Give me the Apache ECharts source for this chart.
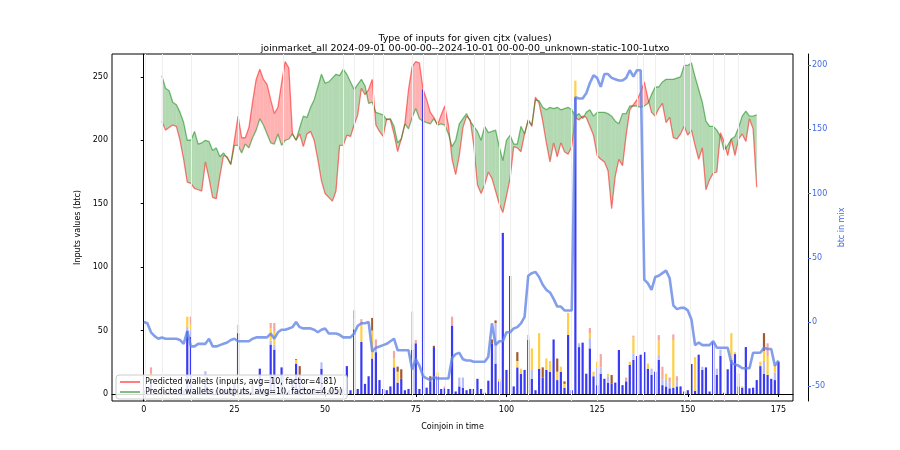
<!DOCTYPE html>
<html><head><meta charset="utf-8">
<script src="https://cdn.jsdelivr.net/npm/echarts@6/dist/echarts.min.js"></script>
<style>html,body{margin:0;padding:0;background:#fff}#c{width:900px;height:450px}</style>
</head><body><div id="c"></div>
<script>
const lineX = [];
for (let i = 5; i <= 169; i++) lineX.push(i);
const outputsVals = [251,241,239,230,228,222,214,200,200,207,197,198,200,199,192,194,187,190,186,181,196,196,190,197,194,202,208,217,212,205,198,197,205,196,200,201,205,200,210,219,218,226,232,242,252,245,246,249,252,251,256,252,246,240,244,248,243,229,230,222,221,220,216,217,211,198,201,213,209,218,225,217,215,214,213,217,212,213,212,205,195,200,213,217,221,215,211,207,200,211,206,207,208,195,184,200,204,197,197,211,205,216,212,232,231,226,224,226,225,226,224,225,226,224,219,221,217,222,224,219,222,222,222,221,219,215,213,221,221,227,227,227,226,227,229,236,242,242,246,248,248,248,249,250,259,259,261,250,240,230,215,211,211,208,203,192,196,201,203,210,219,223,219,219,220];
const inputsVals = [215,208,210,212,211,200,185,167,166,162,161,160,183,170,155,154,172,188,187,181,200,219,202,202,210,230,248,256,248,244,232,221,226,245,262,257,205,200,205,195,205,207,200,185,168,158,155,152,160,196,196,204,203,212,220,241,236,240,248,212,207,203,217,216,205,191,201,213,240,258,262,261,240,232,222,218,212,220,227,212,185,173,188,210,219,216,196,165,158,165,175,170,160,150,143,156,170,195,194,191,205,216,211,234,229,215,198,183,198,187,198,191,189,195,218,216,219,218,211,204,188,185,183,176,146,172,185,180,204,224,228,232,238,246,233,222,219,225,229,214,218,202,201,205,211,204,208,196,185,194,161,169,174,175,206,199,188,201,188,201,205,199,217,209,163];
const mixVals = [0,-1,-8,-11,-13,-12,-13,-13,-13,-13,-14,-17,-7,-19,-19,-17,-17,-17,-13,-19,-19,-18,-17,-16,-14,-13,-15,-15,-15,-15,-13,-12,-12,-12,-12,-9,-13,-8,-6,-6,-5,-4,0,-4,-5,-5,-5,-6,-8,-6,-5,-9,-9,-9,-10,-12,-12,-12,-9,-3,-1,-1,0,-23,-20,-19,-18,-17,-15,-13,-22,-22,-22,-22,-37,-29,-34,-42,-44,-45,-43,-44,-44,-44,-44,-28,-25,-24,-29,-30,-30,-31,-31,-31,-31,-27,-1,-18,-15,-15,-8,-8,-5,-4,-1,4,36,38,39,35,29,25,23,18,12,12,9,9,9,175,174,174,178,186,192,190,183,193,193,190,189,188,188,190,196,191,196,196,33,30,25,35,36,38,40,34,13,10,11,11,9,2,-18,-16,-18,-18,-18,-15,-20,-20,-20,-20,-32,-33,-34,-36,-36,-36,-24,-24,-24,-20,-21,-21,-34,-30];
const blueBars = [3,2,10,3,2,3,2,3,2,3,4,3,50,45,3,2,4,10,3,4,3,5,2,3,4,8,48,3,4,2,6,3,20,4,3,39,35,3,21,4,3,12,24,15,6,3,3,4.5,3,20,4,3,3,4,4,4,22,3,51,4,41,8,14,28,33,11,4,3,6,21,9,12,3,4,35,40,4,240,5,10,37,14,4,4.5,4,54,2,6,5,3,4,4,12,4,1,10.5,40,24,10,127,19,93,6,21,16,19,42.6,12,3,20,13,19,17.6,43,11,17.6,5,46.5,3,234,37,40.5,16,36,14,7,16,12,9,8.4,9,34.7,7,10,23,27,30,31,33,20,15,17.6,27,7,6,4.5,5,6,6,2,3,23.7,2.6,31,19,21,2,41,15,30,1,19.5,27,31.5,6,5,37,4.5,5,11,22,16,15,12,11,25.5];
const lightBars = [[2,3],[12,3],[13,6],[17,8],[35,3],[36,4],[49,5],[58,8],[64,2],[74,5],[87,7],[88,8],[97,32],[106,4],[107,7],[120,3],[123,8],[125,14],[126,5],[128,5],[135,5],[140,5],[142,4],[143,4.5],[144,5],[145,4.5],[147,4],[154,2.5],[158,5],[159,5],[164,5],[171,10],[174,6]];
const yellowBars = [[2,3],[12,8],[13,4],[25,3],[26,6.5],[35,10],[36,10],[42,3],[54,1],[60,13.5],[63,22],[69,7],[70,8.6],[74,25],[81,3],[98,2],[103,5],[104,4],[107,17],[109,28],[111,9],[112,8.4],[114,6.6],[115,4],[116,3],[117,17.5],[119,13],[123,4],[124,3.6],[125,4.5],[128,2],[134,2.5],[135,13],[139,4],[142,11],[144,5],[146,37.6],[152,26.4],[162,21],[163,1.5],[164,5],[165,1],[170,3.5],[171,8],[172,15],[174,6]];
const pinkBars = [[2,5],[13,6],[35,4],[36,7],[58,7],[60,4.5],[64,8],[69,6],[75,2.6],[83,1.5],[85,7],[123,4],[126,10.5],[133,3],[135,1],[142,4.4],[143,10],[145,4],[146,4.4],[147,4],[172,10]];
const brownBars = [[30,2],[42,0.6],[43,7],[63,10],[70,4],[71,7.5],[79,4],[80,1],[96,3],[97,2],[103,7],[110,8],[114,10.4],[116,2],[129,6.6],[171,14]];
const dayMarks = [0.3,5,13.2,26,38.4,55,58,63.3,66,74,77,81,83,91,94,98,101,106,118,125,136,137.8,141,149,150.7,157,160,164];
const xTicks = [0,25,50,75,100,125,150,175];
const yTicks = [0,50,100,150,200,250];
const y2Ticks = [-50,0,50,100,150,200];

const N = blueBars.length;
const segColors = ['#3a3af4','#b9bdf5','#ffcf45','#f4a6a6','#a3582d'];
function full(pairs){const a=new Array(N).fill(0);pairs.forEach(p=>a[p[0]]=p[1]);return a;}
const layers = [blueBars, full(lightBars), full(yellowBars), full(pinkBars), full(brownBars)];
// bar segments: [x, y0, y1, colorIndex]
const barSegs = [];
for (let i=0;i<N;i++){let acc=0;layers.forEach((L,k)=>{if(L[i]>0){barSegs.push([i,acc,acc+L[i],k]);acc+=L[i];}});}
// fill segments: [x0,in0,out0,x1,in1,out1]
const fillSegs = [];
for (let i=0;i<lineX.length-1;i++) fillSegs.push([lineX[i],inputsVals[i],outputsVals[i],lineX[i+1],inputsVals[i+1],outputsVals[i+1]]);

const font = 'DejaVu Sans';
const chart = echarts.init(document.getElementById('c'));
function fillItem(params, api){
  const x0=api.value(0),a0=api.value(1),b0=api.value(2),x1=api.value(3),a1=api.value(4),b1=api.value(5);
  const c=(x,y)=>api.coord([x,y]);
  const G='rgba(0,128,0,0.3)',R='rgba(255,0,0,0.3)';
  const d0=b0-a0,d1=b1-a1;
  const shapes=[];
  const poly=(pts,col)=>shapes.push({type:'polygon',shape:{points:pts},style:{fill:col,stroke:null}});
  if (d0*d1>=0){
    poly([c(x0,a0),c(x1,a1),c(x1,b1),c(x0,b0)], (d0+d1)>=0?G:R);
  } else {
    const t=d0/(d0-d1), xm=x0+t*(x1-x0), ym=a0+t*(a1-a0);
    poly([c(x0,a0),c(xm,ym),c(x0,b0)], d0>0?G:R);
    poly([c(xm,ym),c(x1,a1),c(x1,b1)], d1>0?G:R);
  }
  return {type:'group',children:shapes};
}
function barItem(params, api){
  const x=api.value(0),y0=api.value(1),y1=api.value(2),k=api.value(3);
  const p0=api.coord([x,y0]),p1=api.coord([x,y1]);
  const w=2.2;
  return {type:'rect',shape:{x:p0[0]-w/2,y:p1[1],width:w,height:Math.max(p0[1]-p1[1],0.5)},style:{fill:segColors[k]}};
}
chart.setOption({
  animation:false,
  textStyle:{fontFamily:font},
  title:{text:'Type of inputs for given cjtx (values)\njoinmarket_all 2024-09-01 00-00-00--2024-10-01 00-00-00_unknown-static-100-1utxo',
    left:460,top:29,textAlign:'center',textStyle:{fontSize:9.5,fontWeight:'normal',color:'#000',lineHeight:10,fontFamily:font}},
  grid:{left:112,right:107,top:54,bottom:49,show:true,borderColor:'#000',borderWidth:1,backgroundColor:'transparent'},
  legend:{left:116,top:375,orient:'vertical',itemGap:2,itemWidth:20,itemHeight:2,icon:'rect',
    backgroundColor:'rgba(255,255,255,0.85)',borderColor:'#ccc',borderWidth:1,borderRadius:3,padding:[3,5,3,4],
    textStyle:{fontSize:8,color:'#000',fontFamily:font},
    data:['Predicted wallets (inputs, avg=10, factor=4.81)','Predicted wallets (outputs, avg=10, factor=4.05)']},
  xAxis:{type:'value',min:-8.75,max:179,name:'Coinjoin in time',nameLocation:'middle',nameGap:22,
    nameTextStyle:{fontSize:8,color:'#000'},
    axisLine:{show:true,lineStyle:{color:'#000'}},splitLine:{show:false},
    axisTick:{show:true,customValues:xTicks,length:3,lineStyle:{color:'#000'}},
    axisLabel:{customValues:xTicks,fontSize:8,color:'#000',margin:5}},
  yAxis:[
    {type:'value',min:-5.5,max:268,name:'Inputs values (btc)',nameLocation:'middle',nameGap:24,nameRotate:90,
     nameTextStyle:{fontSize:8,color:'#000'},axisLine:{show:true,lineStyle:{color:'#000'}},splitLine:{show:false},
     axisTick:{show:true,customValues:yTicks,length:3,lineStyle:{color:'#000'}},
     axisLabel:{customValues:yTicks,fontSize:8,color:'#000',margin:4}},
    {type:'value',min:-61.5,max:208.6,position:'right',offset:15,name:'btc in mix',nameLocation:'middle',nameGap:28,nameRotate:90,
     nameTextStyle:{fontSize:8,color:'#4169e1'},axisLine:{show:true,lineStyle:{color:'#000'}},splitLine:{show:false},
     axisTick:{show:true,customValues:y2Ticks,length:3,lineStyle:{color:'#4169e1'}},
     axisLabel:{customValues:y2Ticks,fontSize:8,color:'#4169e1',margin:4}}
  ],
  series:[
    {type:'line',data:[],silent:true,markLine:{silent:true,symbol:'none',label:{show:false},animation:false,
      lineStyle:{color:'#eeeeee',width:1,type:'solid'},data:dayMarks.map(v=>({xAxis:v}))},z:1},
    {type:'custom',renderItem:fillItem,data:fillSegs,silent:true,z:2,encode:{x:[0,3],y:[1,2,4,5]}},
    {name:'Predicted wallets (inputs, avg=10, factor=4.81)',type:'line',data:lineX.map((x,i)=>[x,inputsVals[i]]),showSymbol:false,
      lineStyle:{width:1.3,color:'rgba(255,0,0,0.5)'},itemStyle:{color:'rgba(255,0,0,0.5)'},z:4},
    {name:'Predicted wallets (outputs, avg=10, factor=4.05)',type:'line',data:lineX.map((x,i)=>[x,outputsVals[i]]),showSymbol:false,
      lineStyle:{width:1.3,color:'rgba(0,128,0,0.5)'},itemStyle:{color:'rgba(0,128,0,0.5)'},z:4},
    {type:'custom',renderItem:barItem,data:barSegs,silent:true,z:3,encode:{x:0,y:[1,2]}},
    {type:'line',yAxisIndex:1,data:mixVals.map((v,i)=>[i,v]),showSymbol:false,silent:true,
      lineStyle:{width:2.6,color:'rgba(100,135,230,0.8)'},z:5}
  ]
});
</script></body></html>
